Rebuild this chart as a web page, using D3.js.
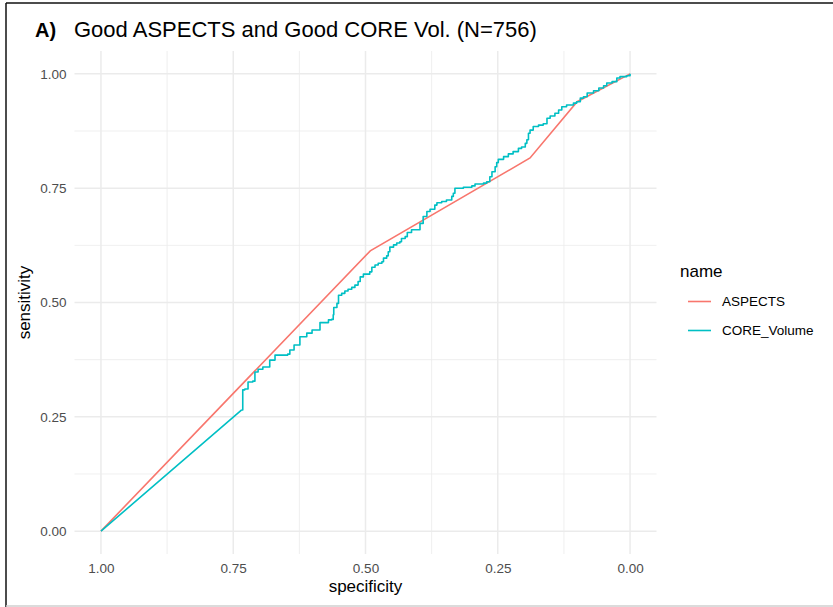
<!DOCTYPE html>
<html lang="en">
<head>
    <meta charset="UTF-8">
    <title>ROC - Good ASPECTS and Good CORE Vol.</title>
    <script type="text/javascript" src="https://d3js.org/d3.v7.min.js"></script>
    <style>
        body { margin: 0; background: #fff; }
        text { font-family: "Liberation Sans", Arial, Helvetica, sans-serif; }
    </style>
</head>
<body>
    <svg width="833" height="607"></svg>

    <script>
        // ROC coordinates
        var aspectsSpec = [1.00, 0.491, 0.189, 0.100, 0.00];
        var aspectsSens = [0.00, 0.613, 0.816, 0.939, 1.00];

        var coreSpec = [1.000, 0.734, 0.732, 0.728, 0.722, 0.713, 0.709, 0.703, 0.694, 0.681,
                        0.671, 0.647, 0.643, 0.635, 0.624, 0.611, 0.601, 0.586, 0.570, 0.564,
                        0.561, 0.560, 0.554, 0.551, 0.545, 0.539, 0.533, 0.526, 0.520, 0.514,
                        0.510, 0.504, 0.495, 0.492, 0.488, 0.482, 0.476, 0.469, 0.466, 0.460,
                        0.457, 0.454, 0.447, 0.441, 0.435, 0.432, 0.425, 0.421, 0.413, 0.397,
                        0.391, 0.384, 0.378, 0.369, 0.365, 0.356, 0.347, 0.337, 0.334, 0.331,
                        0.315, 0.299, 0.293, 0.277, 0.271, 0.265, 0.261, 0.255, 0.252, 0.249,
                        0.239, 0.230, 0.221, 0.211, 0.205, 0.198, 0.195, 0.192, 0.189, 0.183,
                        0.173, 0.164, 0.157, 0.151, 0.142, 0.135, 0.129, 0.120, 0.107, 0.101,
                        0.094, 0.088, 0.081, 0.069, 0.059, 0.050, 0.044, 0.034, 0.025, 0.019,
                        0.006, 0.000];
        var coreSens = [0.000, 0.265, 0.309, 0.311, 0.326, 0.328, 0.348, 0.354, 0.359, 0.374,
                        0.385, 0.387, 0.396, 0.407, 0.425, 0.433, 0.440, 0.456, 0.462, 0.463,
                        0.473, 0.489, 0.498, 0.516, 0.520, 0.525, 0.529, 0.533, 0.538, 0.546,
                        0.556, 0.562, 0.562, 0.567, 0.577, 0.582, 0.586, 0.589, 0.597, 0.602,
                        0.611, 0.621, 0.626, 0.630, 0.633, 0.640, 0.644, 0.653, 0.659, 0.673,
                        0.688, 0.699, 0.704, 0.713, 0.718, 0.721, 0.724, 0.732, 0.739, 0.750,
                        0.752, 0.755, 0.759, 0.761, 0.764, 0.775, 0.786, 0.797, 0.806, 0.813,
                        0.819, 0.825, 0.830, 0.837, 0.840, 0.848, 0.856, 0.870, 0.877, 0.885,
                        0.888, 0.891, 0.903, 0.908, 0.914, 0.921, 0.928, 0.932, 0.936, 0.939,
                        0.947, 0.950, 0.958, 0.963, 0.969, 0.974, 0.980, 0.983, 0.991, 0.994,
                        0.996, 1.000];

        var seriesNames = ["ASPECTS", "CORE_Volume"];
        var seriesColors = ["#F8766D", "#00BFC4"];
        var majorTicks = [0, 0.25, 0.5, 0.75, 1];
        var minorTicks = [0.125, 0.375, 0.625, 0.875];

        var svg = d3.select("svg");

        var panel = {left: 74.5, right: 656.5, top: 51, bottom: 554};

        // ggplot-style 5% expansion on both axes, x reversed
        var x = d3.scaleLinear().domain([1.05, -0.05]).range([panel.left, panel.right]);
        var y = d3.scaleLinear().domain([-0.05, 1.05]).range([panel.bottom, panel.top]);

        // frame of the screenshot
        svg.append("line").attr("x1", 6).attr("x2", 6).attr("y1", 3).attr("y2", 607)
            .attr("stroke", "#111").attr("stroke-width", 1.5);
        svg.append("line").attr("x1", 6).attr("x2", 833).attr("y1", 3).attr("y2", 3)
            .attr("stroke", "#111").attr("stroke-width", 1.5);
        svg.append("line").attr("x1", 6).attr("x2", 833).attr("y1", 606).attr("y2", 606)
            .attr("stroke", "#cfcfcf").attr("stroke-width", 1.5);

        var grid = svg.append("g");

        // minor grid
        grid.selectAll(".vminor").data(minorTicks).enter().append("line")
            .attr("x1", d => x(d)).attr("x2", d => x(d))
            .attr("y1", panel.top).attr("y2", panel.bottom)
            .attr("stroke", "#ebebeb").attr("stroke-width", 0.8);
        grid.selectAll(".hminor").data(minorTicks).enter().append("line")
            .attr("y1", d => y(d)).attr("y2", d => y(d))
            .attr("x1", panel.left).attr("x2", panel.right)
            .attr("stroke", "#ebebeb").attr("stroke-width", 0.8);

        // major grid
        grid.selectAll(".vmajor").data(majorTicks).enter().append("line")
            .attr("x1", d => x(d)).attr("x2", d => x(d))
            .attr("y1", panel.top).attr("y2", panel.bottom)
            .attr("stroke", "#ebebeb").attr("stroke-width", 1.5);
        grid.selectAll(".hmajor").data(majorTicks).enter().append("line")
            .attr("y1", d => y(d)).attr("y2", d => y(d))
            .attr("x1", panel.left).attr("x2", panel.right)
            .attr("stroke", "#ebebeb").attr("stroke-width", 1.5);

        // axes (labels only)
        var xAxis = svg.append("g")
            .attr("transform", "translate(0," + (panel.bottom + 3) + ")")
            .call(d3.axisBottom(x).tickValues(majorTicks).tickFormat(d3.format(".2f")).tickSize(0).tickPadding(6));
        var yAxis = svg.append("g")
            .attr("transform", "translate(" + (panel.left - 3) + ",0)")
            .call(d3.axisLeft(y).tickValues(majorTicks).tickFormat(d3.format(".2f")).tickSize(0).tickPadding(5));
        [xAxis, yAxis].forEach(function (a) {
            a.select(".domain").remove();
            a.selectAll("text")
                .attr("fill", "#4d4d4d")
                .style("font-size", "13.5px")
                .style("font-family", "'Liberation Sans', Arial, sans-serif");
        });

        // ROC curves
        var line = d3.line()
            .x(function (d) { return x(d[0]); })
            .y(function (d) { return y(d[1]); });

        var aspects = aspectsSpec.map((s, i) => [s, aspectsSens[i]]);
        var core = coreSpec.map((s, i) => [s, coreSens[i]]);

        svg.append("path")
            .attr("d", line(aspects))
            .attr("fill", "none")
            .attr("stroke", seriesColors[0])
            .attr("stroke-width", 1.6);

        // first segment straight, the rest as a staircase
        var stepLine = d3.line()
            .x(function (d) { return x(d[0]); })
            .y(function (d) { return y(d[1]); })
            .curve(d3.curveStepAfter);

        svg.append("path")
            .attr("d", line(core.slice(0, 2)) + stepLine(core.slice(1)))
            .attr("fill", "none")
            .attr("stroke", seriesColors[1])
            .attr("stroke-width", 1.6)
            .attr("stroke-linejoin", "round");

        // axis titles
        svg.append("text")
            .attr("x", (panel.left + panel.right) / 2)
            .attr("y", 592)
            .attr("text-anchor", "middle")
            .style("font-size", "17px")
            .text("specificity");

        svg.append("text")
            .attr("transform", "translate(30," + ((panel.top + panel.bottom) / 2) + ") rotate(-90)")
            .attr("text-anchor", "middle")
            .style("font-size", "17px")
            .text("sensitivity");

        // titles
        svg.append("text")
            .attr("x", 35).attr("y", 37)
            .style("font-size", "20px")
            .style("font-weight", "bold")
            .text("A)");

        svg.append("text")
            .attr("x", 74).attr("y", 37)
            .style("font-size", "22px")
            .text("Good ASPECTS and Good CORE Vol. (N=756)");

        // legend
        var legend = svg.append("g");
        legend.append("text")
            .attr("x", 680).attr("y", 277)
            .style("font-size", "17px")
            .text("name");

        var items = legend.selectAll(".item")
            .data(seriesNames)
            .enter().append("g")
            .attr("transform", (d, i) => "translate(0," + (301.5 + i * 29) + ")");

        items.append("line")
            .attr("x1", 688).attr("x2", 711)
            .attr("stroke", (d, i) => seriesColors[i])
            .attr("stroke-width", 1.6);

        items.append("text")
            .attr("x", 722)
            .attr("dy", "0.35em")
            .style("font-size", "13.5px")
            .text(d => d);
    </script>
</body>
</html>
